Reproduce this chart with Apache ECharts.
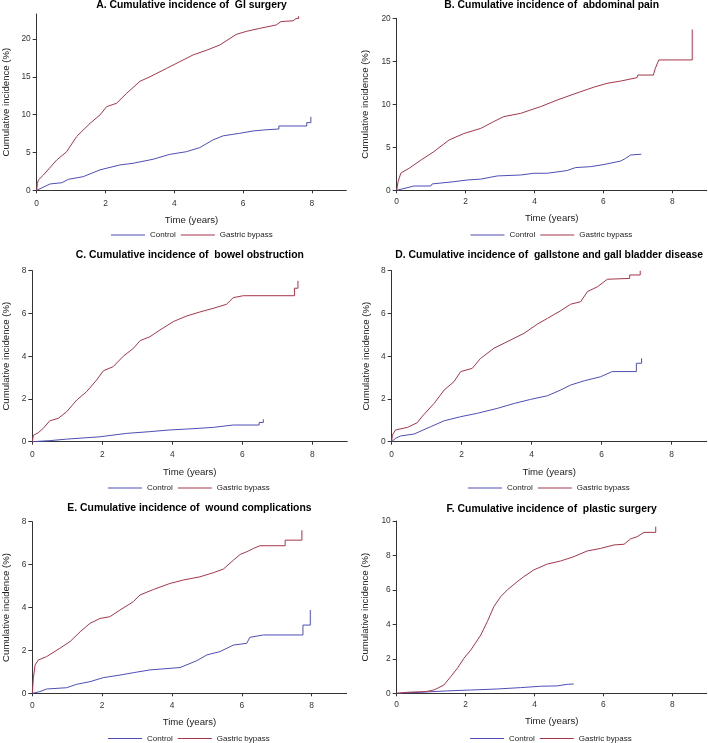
<!DOCTYPE html>
<html>
<head>
<meta charset="utf-8">
<script src="https://cdn.jsdelivr.net/npm/echarts@6/dist/echarts.min.js"></script>
<style>html,body{margin:0;padding:0;background:#fff}#c{width:708px;height:743px}</style>
</head>
<body>
<div id="c"></div>
<script>
// ---------- data ----------
const panelTitles = [
  'A. Cumulative incidence of  GI surgery',
  'B. Cumulative incidence of  abdominal pain',
  'C. Cumulative incidence of  bowel obstruction',
  'D. Cumulative incidence of  gallstone and gall bladder disease',
  'E. Cumulative incidence of  wound complications',
  'F. Cumulative incidence of  plastic surgery'
];
const seriesNames = ['Control', 'Gastric bypass'];
const xTicks = [0, 2, 4, 6, 8];
const yTicksA = [0, 5, 10, 15, 20];
const yTicksB = [0, 5, 10, 15, 20];
const yTicksC = [0, 2, 4, 6, 8];
const yTicksD = [0, 2, 4, 6, 8];
const yTicksE = [0, 2, 4, 6, 8];
const yTicksF = [0, 2, 4, 6, 8, 10];

const tA_gb = [0,0.02,0.05,0.19,0.58,0.87,1.16,1.55,1.84,2.03,2.32,2.61,3.0,3.29,3.77,4.16,4.55,4.93,5.32,5.8,6.09,6.48,6.96,7.1,7.45,7.54,7.61,7.61];
const vA_gb = [0,0.9,1.37,2.0,4.0,5.1,7.1,8.85,9.96,11.05,11.5,12.8,14.4,15.0,16.1,17.0,17.9,18.5,19.2,20.6,21.0,21.4,21.85,22.3,22.4,22.7,22.7,23.0];
const tA_ct = [0,0.39,0.73,0.92,1.35,1.84,2.42,2.8,3.38,3.87,4.35,4.74,5.12,5.42,5.9,6.29,6.67,7.04,7.04,7.85,7.85,7.97,7.97];
const vA_ct = [0,0.84,1.0,1.45,1.8,2.7,3.35,3.57,4.1,4.75,5.1,5.64,6.65,7.2,7.53,7.84,8.0,8.1,8.5,8.5,8.94,8.94,9.7];

const tB_gb = [0,0.04,0.12,0.36,0.7,1.08,1.52,1.95,2.44,2.82,3.11,3.6,4.18,4.66,5.15,5.73,6.11,6.5,6.98,7.0,7.45,7.51,7.61,8.58,8.58];
const vB_gb = [0,1.0,2.0,2.56,3.5,4.5,5.85,6.6,7.2,8.0,8.57,8.95,9.73,10.5,11.2,12.0,12.44,12.7,13.1,13.4,13.4,14.2,15.16,15.16,18.7];
const tB_ct = [0,0.5,0.99,1.03,1.66,2.05,2.44,2.92,3.6,3.98,4.37,4.95,5.19,5.63,6.02,6.5,6.64,6.79,7.1];
const vB_ct = [0,0.5,0.5,0.74,1.0,1.2,1.3,1.67,1.78,1.98,1.98,2.3,2.64,2.75,3.0,3.4,3.7,4.1,4.2];

const tC_gb = [0,0.03,0.17,0.31,0.5,0.74,0.98,1.27,1.55,1.84,2.03,2.31,2.6,2.89,3.08,3.36,3.65,4.03,4.41,4.79,5.17,5.55,5.74,6.03,7.49,7.49,7.59,7.59];
const vC_gb = [0,0.3,0.42,0.62,0.98,1.09,1.4,1.95,2.34,2.89,3.32,3.51,4.0,4.37,4.73,4.91,5.23,5.62,5.88,6.07,6.24,6.43,6.74,6.83,6.83,7.18,7.18,7.53];
const tC_ct = [0,0.5,0.98,1.93,2.7,3.36,3.93,4.41,5.17,5.74,6.48,6.48,6.6,6.6];
const vC_ct = [0,0.05,0.12,0.23,0.39,0.47,0.55,0.59,0.67,0.78,0.78,0.9,0.9,1.05];

const tD_gb = [0,0.02,0.11,0.45,0.73,0.88,1.21,1.5,1.78,1.97,2.3,2.54,2.92,3.4,3.78,4.16,4.45,4.83,5.11,5.4,5.59,5.88,6.16,6.8,6.8,7.1,7.1];
const vD_gb = [0,0.31,0.55,0.67,0.89,1.2,1.79,2.42,2.81,3.28,3.43,3.9,4.37,4.76,5.07,5.5,5.77,6.13,6.43,6.55,7.02,7.25,7.6,7.64,7.8,7.8,8.0];
const tD_ct = [0,0.11,0.26,0.64,1.11,1.5,1.97,2.45,3.02,3.5,3.97,4.45,4.83,5.11,5.5,5.97,6.3,6.99,6.99,7.14,7.14];
const vD_ct = [0,0.16,0.27,0.36,0.7,0.98,1.17,1.33,1.56,1.79,1.98,2.15,2.42,2.65,2.85,3.04,3.28,3.28,3.67,3.67,3.9];

const tE_gb = [0,0.03,0.08,0.17,0.41,0.79,1.08,1.37,1.65,1.94,2.22,2.51,2.89,3.08,3.47,3.94,4.32,4.8,5.18,5.47,5.76,5.95,6.14,6.33,6.52,7.24,7.24,7.72,7.72];
const vE_gb = [0,0.7,1.32,1.55,1.71,2.1,2.41,2.87,3.26,3.49,3.57,3.88,4.27,4.58,4.84,5.12,5.28,5.43,5.62,5.79,6.21,6.47,6.6,6.75,6.88,6.88,7.14,7.14,7.6];
const tE_ct = [0,0.22,0.41,0.98,1.27,1.65,2.03,2.51,2.89,3.37,4.23,4.71,5.0,5.37,5.76,6.14,6.23,6.62,7.75,7.75,7.96,7.96];
const vE_ct = [0,0.08,0.2,0.26,0.42,0.54,0.73,0.85,0.96,1.09,1.2,1.52,1.79,1.94,2.25,2.33,2.61,2.72,2.72,3.18,3.18,3.88];

const tF_gb = [0,0.31,0.84,1.08,1.37,1.57,1.76,1.95,2.15,2.44,2.63,2.82,3.02,3.21,3.5,3.69,3.98,4.37,4.76,5.14,5.53,5.92,6.31,6.6,6.79,6.98,7.18,7.52,7.52];
const vF_gb = [0,0.06,0.1,0.19,0.48,0.97,1.45,2.03,2.51,3.38,4.16,5.03,5.61,6.0,6.48,6.77,7.16,7.5,7.68,7.93,8.26,8.41,8.61,8.65,8.96,9.09,9.34,9.34,9.67];
const tF_ct = [0,0.7,1.47,2.15,2.92,3.6,4.18,4.66,4.95,5.14];
const vF_ct = [0,0.06,0.14,0.19,0.25,0.33,0.41,0.43,0.52,0.54];

// ---------- layout ----------
const FONT = 'Liberation Sans, Arial, Helvetica, sans-serif';
const COL_CT = '#4e4eb6';
const COL_GB = '#a5374b';
const zip = (t, v) => t.map((x, i) => [x, v[i]]);

const panels = [
  {left:36.7, top:14,    w:309.6, h:176.3, ymax:23.3, yint:5, ticks:yTicksA, ct:zip(tA_ct,vA_ct), gb:zip(tA_gb,vA_gb), titleY:0.5, legY:231, nameGap:25, xoff:5, legX:111},
  {left:396.7,top:18.3,  w:310,   h:172,   ymax:20,   yint:5, ticks:yTicksB, ct:zip(tB_ct,vB_ct), gb:zip(tB_gb,vB_gb), titleY:0.5, legY:231, nameGap:26, xoff:3, legX:470.5},
  {left:32.3, top:270.7, w:315,   h:171,   ymax:8,    yint:2, ticks:yTicksC, ct:zip(tC_ct,vC_ct), gb:zip(tC_gb,vC_gb), titleY:250.5, legY:484, nameGap:20.5, xoff:5, legX:108},
  {left:391.7,top:270.7, w:315,   h:171,   ymax:8,    yint:2, ticks:yTicksD, ct:zip(tD_ct,vD_ct), gb:zip(tD_gb,vD_gb), titleY:250.5, legY:484, nameGap:20, xoff:5, legX:468},
  {left:32.3, top:521.7, w:314.3, h:171.6, ymax:8,    yint:2, ticks:yTicksE, ct:zip(tE_ct,vE_ct), gb:zip(tE_gb,vE_gb), titleY:503, legY:734.5, nameGap:21, xoff:4, legX:108},
  {left:396.7,top:521,   w:310,   h:172.3, ymax:10,   yint:2, ticks:yTicksF, ct:zip(tF_ct,vF_ct), gb:zip(tF_gb,vF_gb), titleY:504, legY:734.5, nameGap:26, xoff:3, legX:470}
];

const option = {
  animation: false,
  backgroundColor: '#fff',
  textStyle: {fontFamily: FONT},
  title: [], legend: [], grid: [], xAxis: [], yAxis: [], series: []
};

panels.forEach((p, i) => {
  option.title.push({
    text: panelTitles[i],
    left: p.left + p.w / 2, top: p.titleY, textAlign: 'center', padding: 0,
    textStyle: {fontFamily: FONT, fontSize: 10.4, fontWeight: 'bold', color: '#000'}
  });
  option.grid.push({left: p.left, top: p.top, width: p.w, height: p.h, containLabel: false});
  option.xAxis.push({
    gridIndex: i, type: 'value', min: 0, max: 9, interval: 2, offset: p.xoff,
    name: 'Time (years)', nameLocation: 'middle', nameGap: 20.5,
    nameTextStyle: {fontFamily: FONT, fontSize: 9.6, color: '#222'},
    axisLine: {show: true, lineStyle: {color: '#333', width: 1}},
    axisTick: {show: true, length: 3, lineStyle: {color: '#333'}, customValues: xTicks},
    axisLabel: {fontFamily: FONT, fontSize: 8.4, color: '#333', margin: 4, customValues: xTicks},
    splitLine: {show: false}
  });
  option.yAxis.push({
    gridIndex: i, type: 'value', min: 0, max: p.ymax, interval: p.yint,
    name: 'Cumulative incidence (%)', nameLocation: 'middle', nameGap: p.nameGap,
    nameTextStyle: {fontFamily: FONT, fontSize: 9.6, color: '#222'},
    axisLine: {show: true, lineStyle: {color: '#333', width: 1}},
    axisTick: {show: true, length: 4, lineStyle: {color: '#333'}, customValues: p.ticks},
    axisLabel: {fontFamily: FONT, fontSize: 8.4, color: '#333', margin: 6, customValues: p.ticks},
    splitLine: {show: false}
  });
  option.legend.push({
    data: seriesNames, left: p.legX, top: p.legY, orient: 'horizontal',
    icon: 'rect', itemWidth: 34, itemHeight: 1, itemGap: 5, padding: 0,
    selectedMode: false,
    textStyle: {fontFamily: FONT, fontSize: 8, color: '#222'}
  });
  option.series.push({
    name: seriesNames[0], type: 'line', xAxisIndex: i, yAxisIndex: i,
    data: p.ct, showSymbol: false, symbol: 'none',
    lineStyle: {color: COL_CT, width: 1}, itemStyle: {color: COL_CT}
  });
  option.series.push({
    name: seriesNames[1], type: 'line', xAxisIndex: i, yAxisIndex: i,
    data: p.gb, showSymbol: false, symbol: 'none',
    lineStyle: {color: COL_GB, width: 1}, itemStyle: {color: COL_GB}
  });
});

const chart = echarts.init(document.getElementById('c'), null, {renderer: 'canvas'});
chart.setOption(option);
</script>
</body>
</html>
